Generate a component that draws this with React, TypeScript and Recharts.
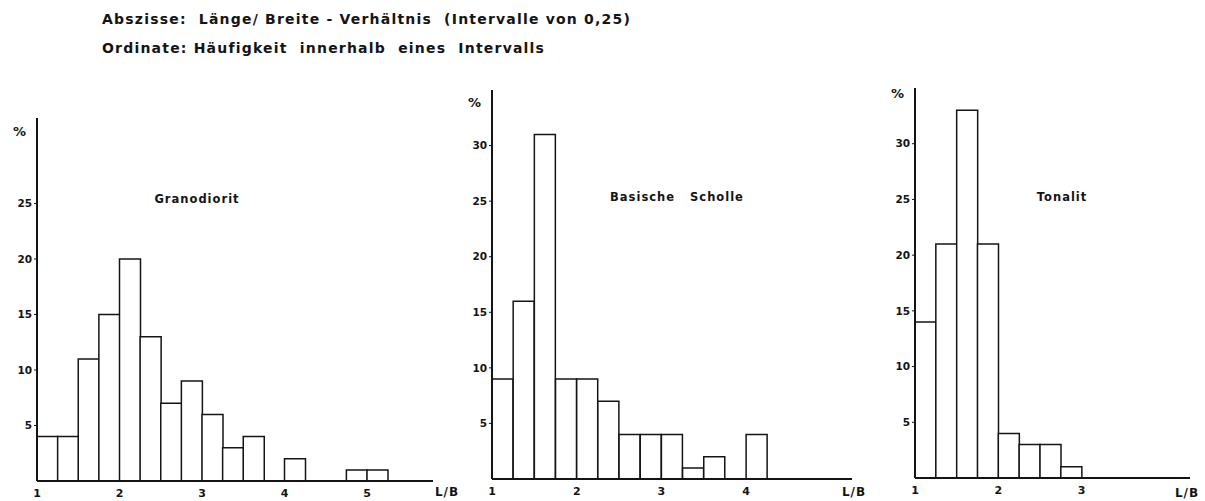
import React from "react";
import { BarChart, Bar, XAxis, YAxis } from "recharts";

// bin centres, interval 0.25 starting at L/B = 1
const granoBins = [1.125, 1.375, 1.625, 1.875, 2.125, 2.375, 2.625, 2.875, 3.125, 3.375, 3.625, 3.875, 4.125, 4.375, 4.625, 4.875, 5.125];
const granoValues = [4, 4, 11, 15, 20, 13, 7, 9, 6, 3, 4, 0, 2, 0, 0, 1, 1];

const basischBins = [1.125, 1.375, 1.625, 1.875, 2.125, 2.375, 2.625, 2.875, 3.125, 3.375, 3.625, 3.875, 4.125];
const basischValues = [9, 16, 31, 9, 9, 7, 4, 4, 4, 1, 2, 0, 4];

const tonalitBins = [1.125, 1.375, 1.625, 1.875, 2.125, 2.375, 2.625, 2.875];
const tonalitValues = [14, 21, 33, 21, 4, 3, 3, 1];

const granoXTicks = [1, 2, 3, 4, 5];
const basischXTicks = [1, 2, 3, 4];
const tonalitXTicks = [1, 2, 3];
const yTicks25 = [5, 10, 15, 20, 25];
const yTicks30 = [5, 10, 15, 20, 25, 30];

const INK = "#141414";
const FONT = "'DejaVu Sans', sans-serif";

const toRows = (bins: number[], values: number[]) =>
  bins.map((x, i) => ({ x, v: values[i] }));

type PanelProps = {
  left: number;
  top: number;
  width: number;
  height: number;
  yWidth: number;
  marginTop: number;
  marginRight: number;
  bins: number[];
  values: number[];
  xDomain: [number, number];
  yDomain: [number, number];
  xTicks: number[];
  yTicks: number[];
};

const Panel: React.FC<PanelProps> = (p) => (
  <div style={{ position: "absolute", left: p.left, top: p.top }}>
    <BarChart
      width={p.width}
      height={p.height}
      data={toRows(p.bins, p.values)}
      margin={{ top: p.marginTop, right: p.marginRight, bottom: 0, left: 0 }}
      barCategoryGap={0}
      barGap={0}
    >
      <XAxis
        dataKey="x"
        type="number"
        domain={p.xDomain}
        ticks={p.xTicks}
        allowDataOverflow
        tickLine={false}
        axisLine={{ stroke: INK, strokeWidth: 2 }}
        height={20}
        tick={{ fill: INK, fontSize: 11, fontWeight: 700, fontFamily: FONT }}
      />
      <YAxis
        type="number"
        domain={p.yDomain}
        ticks={p.yTicks}
        allowDataOverflow
        width={p.yWidth}
        tickSize={3}
        tickMargin={2}
        tickLine={{ stroke: INK, strokeWidth: 1 }}
        axisLine={{ stroke: INK, strokeWidth: 2 }}
        tick={{ fill: INK, fontSize: 10.5, fontWeight: 700, fontFamily: FONT }}
      />
      <Bar dataKey="v" fill="#ffffff" stroke={INK} strokeWidth={1.5} isAnimationActive={false} />
    </BarChart>
  </div>
);

const Label: React.FC<{ x: number; y: number; size?: number; spacing?: number; children: React.ReactNode }> = ({
  x,
  y,
  size = 11.5,
  spacing = 1,
  children,
}) => (
  <div
    style={{
      position: "absolute",
      left: x,
      top: y,
      transform: "translate(-50%, -50%)",
      fontFamily: FONT,
      fontWeight: 700,
      fontSize: size,
      letterSpacing: spacing,
      color: INK,
      whiteSpace: "pre",
    }}
  >
    {children}
  </div>
);

const headerStyle: React.CSSProperties = {
  position: "absolute",
  left: 102,
  fontFamily: FONT,
  fontWeight: 700,
  fontSize: 14,
  letterSpacing: 1.2,
  color: INK,
  whiteSpace: "pre",
};

export default function App() {
  return (
    <div style={{ position: "absolute", left: 0, top: 0, width: 1205, height: 501, background: "#fff", overflow: "hidden" }}>
      <div style={{ ...headerStyle, top: 11 }}>Abszisse:  Länge/ Breite - Verhältnis  (Intervalle von 0,25)</div>
      <div style={{ ...headerStyle, top: 40 }}>Ordinate: Häufigkeit  innerhalb  eines  Intervalls</div>

      <Panel
        left={0}
        top={100}
        width={443}
        height={401}
        yWidth={37}
        marginTop={18}
        marginRight={10}
        bins={granoBins}
        values={granoValues}
        xDomain={[1, 5.8]}
        yDomain={[0, 32.7]}
        xTicks={granoXTicks}
        yTicks={yTicks25}
      />
      <Panel
        left={440}
        top={80}
        width={422}
        height={419}
        yWidth={52}
        marginTop={10}
        marginRight={10}
        bins={basischBins}
        values={basischValues}
        xDomain={[1, 5.25]}
        yDomain={[0, 35]}
        xTicks={basischXTicks}
        yTicks={yTicks30}
      />
      <Panel
        left={860}
        top={78}
        width={335}
        height={420}
        yWidth={55}
        marginTop={10}
        marginRight={5}
        bins={tonalitBins}
        values={tonalitValues}
        xDomain={[1, 4.3]}
        yDomain={[0, 35]}
        xTicks={tonalitXTicks}
        yTicks={yTicks30}
      />

      <Label x={20} y={131} size={13}>%</Label>
      <Label x={475} y={102} size={13}>%</Label>
      <Label x={898} y={93} size={13}>%</Label>

      <Label x={197} y={199}>Granodiorit</Label>
      <Label x={677} y={197}>Basische   Scholle</Label>
      <Label x={1062} y={197}>Tonalit</Label>

      <Label x={447} y={492} size={12}>L/B</Label>
      <Label x={854} y={492} size={12}>L/B</Label>
      <Label x={1187} y={493} size={12}>L/B</Label>
    </div>
  );
}
